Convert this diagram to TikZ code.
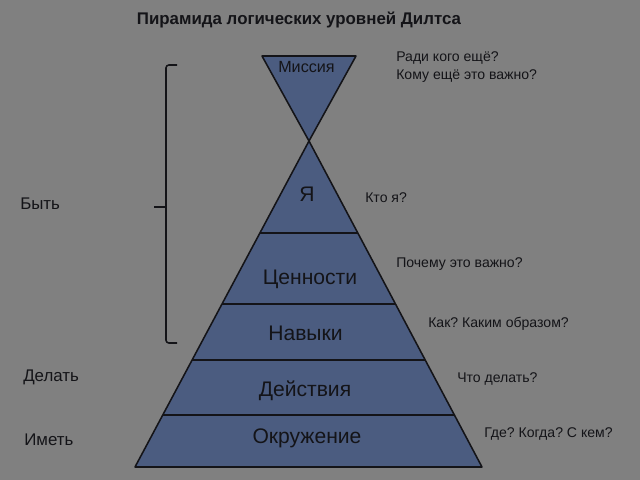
\documentclass[tikz,border=0pt]{standalone}
\usepackage{fontspec}
\setmainfont{Liberation Sans}
\frenchspacing
\definecolor{bggray}{RGB}{128,128,128}
\definecolor{layerblue}{RGB}{75,92,128}
\definecolor{inkdark}{RGB}{20,20,24}
\usetikzlibrary{calc, positioning}

\begin{document}
\begin{tikzpicture}[x=0.025cm, y=-0.025cm,
  layer/.style={font=\fontsize{15}{18}\selectfont, text=inkdark, anchor=base, inner sep=0pt},
  ask/.style={font=\fontsize{10}{12.75}\selectfont, text=inkdark, anchor=base west, align=left, inner sep=0pt},
  side/.style={font=\fontsize{12}{14}\selectfont, text=inkdark, anchor=base west, inner sep=0pt},
  edge/.style={draw=inkdark, line width=1.1pt, line join=round}]
  % Background
  \fill[bggray] (0,0) rectangle (640,480);
  \node[font=\bfseries\fontsize{12}{14}\selectfont, text=inkdark, anchor=base, inner sep=0pt] (title) at (299,25) {Пирамида логических уровней Дилтса};

  % Pyramid corners
  \coordinate (topL) at (262,56);
  \coordinate (topR) at (356,56);
  \coordinate (apex) at (309,141);
  \coordinate (baseL) at (135,467);
  \coordinate (baseR) at (482,467);

  % Mission (upside down) and main pyramid
  \filldraw[edge, fill=layerblue] (topL) -- (topR) -- (apex) -- cycle;
  \filldraw[edge, fill=layerblue] (apex) -- (baseR) -- (baseL) -- cycle;
  \foreach \t in {0.282, 0.5, 0.672, 0.841}
    \draw[edge] ($(apex)!\t!(baseL)$) -- ($(apex)!\t!(baseR)$);

  % Levels
  \node[layer, font=\fontsize{11.5}{14}\selectfont] (mission) at (306.5,72) {Миссия};
  \node[layer] (self) at (307,201) {Я};
  \node[layer] (values) at (310,284) {Ценности};
  \node[layer] (skills) at (305.5,340) {Навыки};
  \node[layer] (actions) at (305,396) {Действия};
  \node[layer] (env) at (307,443) {Окружение};

  % Questions
  \node[ask] (qmission) at (396,79) {Ради кого ещё?\\Кому ещё это важно?};
  \node[ask] (qself) at (365,202) {Кто я?};
  \node[ask] (qvalues) at (396,267) {Почему это важно?};
  \node[ask] (qskills) at (428,327) {Как? Каким образом?};
  \node[ask] (qactions) at (457,382) {Что делать?};
  \node[ask] (qenv) at (484,437) {Где? Когда? С кем?};

  % Left side
  \node[side] (being) at (20,209) {Быть};
  \node[side] (doing) at (23,381) {Делать};
  \node[side] (having) at (24,445) {Иметь};

  % Brace
  \draw[edge, rounded corners=2pt] (177,65) -- (166,65) -- (166,343) -- (177,343);
  \draw[edge] (154,207) -- (166,207);
\end{tikzpicture}
\end{document}
